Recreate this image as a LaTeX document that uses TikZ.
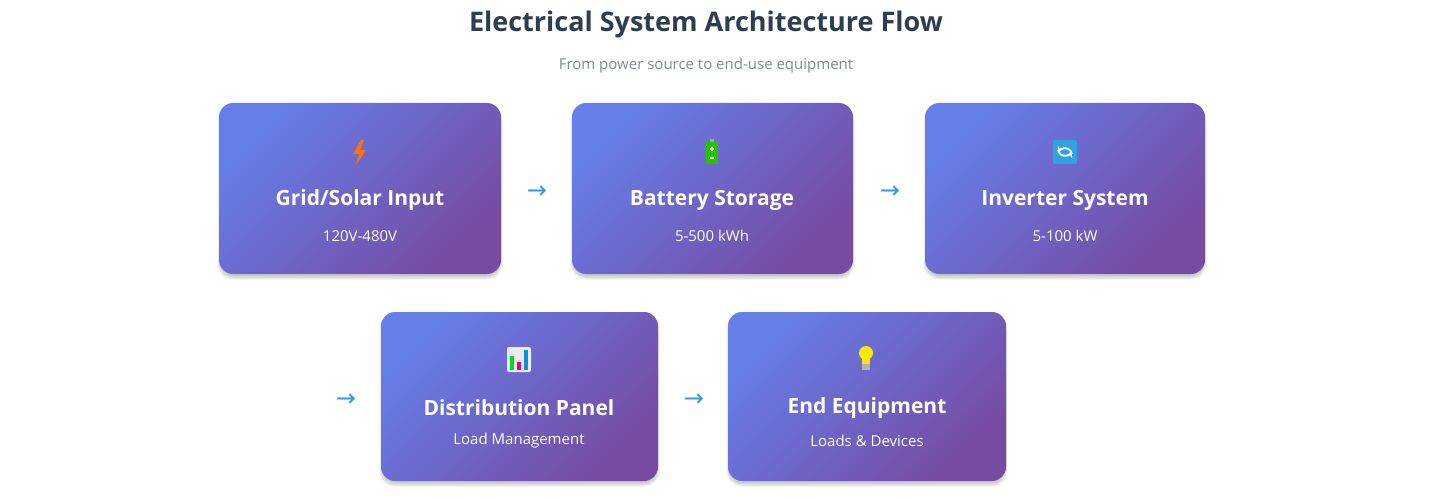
\documentclass[tikz,border=0pt]{standalone}
\usepackage{fontspec}
\setmainfont{Open Sans}
\newfontfamily\djv{DejaVu Sans}
\usetikzlibrary{shadows.blur}
\definecolor{ga}{HTML}{667EEA}
\definecolor{gb}{HTML}{764BA2}
\definecolor{ttl}{HTML}{2C3E50}
\definecolor{sub}{HTML}{7F8C8D}
\definecolor{arr}{HTML}{3498DB}
\begin{document}
\begin{tikzpicture}[x=1pt,y=-1pt,
  card/.style={rounded corners=14pt, top color=ga, bottom color=gb, shading angle=45, blur shadow={shadow blur steps=6, shadow xshift=0pt, shadow yshift=-4pt, shadow opacity=20}},
  head/.style={text=white, font=\bfseries\fontsize{21}{24}\selectfont},
  val/.style={text=white, font=\fontsize{15}{18}\selectfont},
  flow/.style={text=arr, font=\djv\fontsize{24}{26}\selectfont}]
\useasboundingbox (0,0) rectangle (1433,500);
\node[text=ttl, font=\bfseries\fontsize{27}{32}\selectfont] (title) at (706,24) {Electrical System Architecture Flow};
\node[text=sub, font=\fontsize{15}{18}\selectfont] (subtitle) at (706,66) {From power source to end-use equipment};
% cards
\path[card] (219,103) rectangle (501,274);
\path[card] (572,103) rectangle (853,274);
\path[card] (925,103) rectangle (1205,274);
\path[card] (381,312) rectangle (658,481);
\path[card] (728,312) rectangle (1006,481);
% texts
\node[head] (t1) at (360,200) {Grid/Solar Input};
\node[val] (v1) at (360,236) {120V-480V};
\node[head] (t2) at (712,200) {Battery Storage};
\node[val] (v2) at (712,236) {5-500 kWh};
\node[head] (t3) at (1065,200) {Inverter System};
\node[val] (v3) at (1065,236) {5-100 kW};
\node[head] (t4) at (519,408) {Distribution Panel};
\node[val] (v4) at (519,441) {Load Management};
\node[head] (t5) at (867,408) {End Equipment};
\node[val] (v5) at (867,441) {Loads \& Devices};
% arrows
\node[flow] (a1) at (537,192) {→};
\node[flow] (a2) at (890,192) {→};
\node[flow] (a3) at (346,400) {→};
\node[flow] (a4) at (694,400) {→};
% icons
\fill[orange!90!red] (361,140) -- (353,154) -- (359,154) -- (356,165) -- (366,150) -- (360,150) -- (364,140) -- cycle;
\fill[gray!70] (710,139) rectangle (714,142);
\fill[green!70!black!80!lime] (706,142) rectangle (718,164);
\fill[white] (711,147) rectangle (713,151); \fill[white] (710,148) rectangle (714,150);
\fill[white] (710,157) rectangle (714,159);
\fill[arr!90!cyan, rounded corners=2pt] (1053,140) rectangle (1077,164);
\draw[white, line width=1.8pt, -stealth] (1058,150) arc[start angle=170, end angle=20, radius=7];
\draw[white, line width=1.8pt, -stealth] (1072,154) arc[start angle=-10, end angle=-160, radius=7];
\fill[gray!15, rounded corners=2pt] (507,347) rectangle (531,372);
\fill[green!70!teal] (510,356) rectangle (514,370);
\fill[magenta] (517,362) rectangle (521,370);
\fill[cyan!80!blue] (524,350) rectangle (528,370);
\fill[yellow!90!orange] (866,353) circle[radius=7];
\fill[yellow!90!orange] (862,357) rectangle (870,364);
\fill[gray!60] (862,364) rectangle (870,370);
\end{tikzpicture}
\end{document}
